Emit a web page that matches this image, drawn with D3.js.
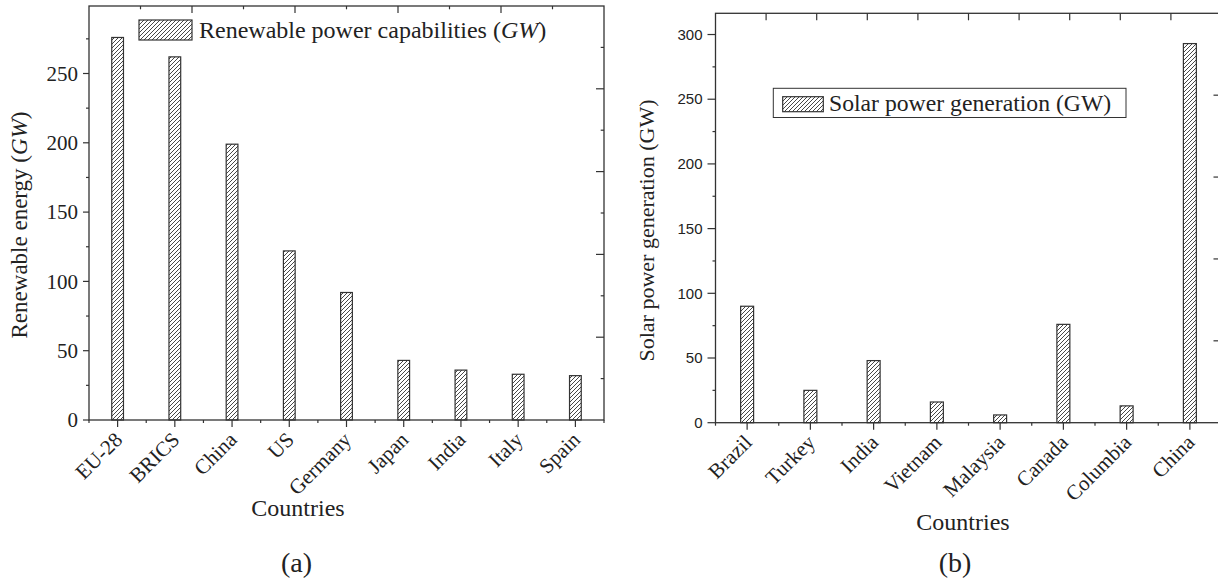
<!DOCTYPE html>
<html>
<head>
<meta charset="utf-8">
<script src="https://cdn.jsdelivr.net/npm/d3@7"></script>
<style>
  html, body { margin: 0; padding: 0; background: #fff; }
  svg { display: block; }
  text { fill: #222; }
</style>
</head>
<body>
<svg id="chart" width="1218" height="583"></svg>
<script>
// ---- Data ----
const leftCategories = ["EU-28", "BRICS", "China", "US", "Germany", "Japan", "India", "Italy", "Spain"];
const leftValues = [276, 262, 199, 122, 92, 43, 36, 33, 32];
const leftYTicks = [0, 50, 100, 150, 200, 250];

const rightCategories = ["Brazil", "Turkey", "India", "Vietnam", "Malaysia", "Canada", "Columbia", "China"];
const rightValues = [90, 25, 48, 16, 6, 76, 13, 293];
const rightYTicks = [0, 50, 100, 150, 200, 250, 300];

const serif = "'Liberation Serif', 'Times New Roman', serif";
const sans = "'Liberation Sans', Arial, sans-serif";
const axisColor = "#333";

const svg = d3.select("#chart");

// hatch pattern
const defs = svg.append("defs");
const pat = defs.append("pattern")
  .attr("id", "hatch")
  .attr("patternUnits", "userSpaceOnUse")
  .attr("width", 4).attr("height", 4);
pat.append("rect").attr("width", 4).attr("height", 4).attr("fill", "#fff");
pat.append("path")
  .attr("d", "M-1,1 l2,-2 M0,4 l4,-4 M3,5 l2,-2")
  .attr("stroke", "#333").attr("stroke-width", 0.9);

function drawPanel(cfg) {
  const g = svg.append("g");
  const x = d3.scaleBand().domain(cfg.categories).range([cfg.left, cfg.right]).paddingInner(0).paddingOuter(0);
  const y = d3.scaleLinear().domain([0, cfg.yMax]).range([cfg.bottom, cfg.top]);

  // bars
  const bw = x.bandwidth() * 0.205;
  g.selectAll("rect.bar").data(cfg.values).enter().append("rect")
    .attr("class", "bar")
    .attr("x", (d, i) => x(cfg.categories[i]) + x.bandwidth() / 2 - bw / 2)
    .attr("y", d => y(d))
    .attr("width", bw)
    .attr("height", d => y(0) - y(d))
    .attr("fill", "url(#hatch)")
    .attr("stroke", "#333")
    .attr("stroke-width", 1.2);

  // frame
  g.append("rect")
    .attr("x", cfg.left).attr("y", cfg.top)
    .attr("width", cfg.right - cfg.left).attr("height", cfg.bottom - cfg.top)
    .attr("fill", "none").attr("stroke", axisColor).attr("stroke-width", 1.3);

  // left y axis ticks (outward), major + minor
  const yMinor = d3.range(0, cfg.yMax, 25);
  yMinor.forEach(v => {
    const major = v % 50 === 0;
    g.append("line")
      .attr("x1", cfg.left).attr("x2", cfg.left - (major ? cfg.yMajorLen : 3))
      .attr("y1", y(v)).attr("y2", y(v))
      .attr("stroke", axisColor).attr("stroke-width", 1.2);
  });
  g.selectAll("text.ytick").data(cfg.yTicks).enter().append("text")
    .attr("class", "ytick")
    .attr("x", cfg.yLabelRight)
    .attr("y", d => y(d))
    .attr("dy", "0.35em")
    .attr("text-anchor", "end")
    .style("font-family", cfg.yTickFont)
    .style("font-size", cfg.yTickSize + "px")
    .text(d => d);

  // bottom x axis ticks
  cfg.categories.forEach(c => {
    const cx = x(c) + x.bandwidth() / 2;
    g.append("line").attr("x1", cx).attr("x2", cx)
      .attr("y1", cfg.bottom).attr("y2", cfg.bottom + 7)
      .attr("stroke", axisColor).attr("stroke-width", 1.2);
  });
  d3.range(cfg.categories.length + 1).forEach(i => {
    const bx = cfg.left + i * x.step();
    g.append("line").attr("x1", bx).attr("x2", bx)
      .attr("y1", cfg.bottom).attr("y2", cfg.bottom + 3)
      .attr("stroke", axisColor).attr("stroke-width", 1.2);
  });
  g.selectAll("text.xtick").data(cfg.categories).enter().append("text")
    .attr("class", "xtick")
    .attr("transform", d => `translate(${x(d) + x.bandwidth() / 2 + 6},${cfg.bottom + 21}) rotate(-45)`)
    .attr("text-anchor", "end")
    .style("font-family", serif)
    .style("font-size", "21px")
    .text(d => d);

  // top ticks (inward), 10 divisions
  const W = cfg.right - cfg.left;
  d3.range(1, 10).forEach(k => {
    const tx = cfg.left + k * W / 10;
    const len = (cfg.topAlt && k % 2 === 1) ? 3.3 : 7;
    g.append("line").attr("x1", tx).attr("x2", tx)
      .attr("y1", cfg.top).attr("y2", cfg.top + len)
      .attr("stroke", axisColor).attr("stroke-width", 1.2);
  });
  // right ticks (inward), 10 divisions
  const H = cfg.bottom - cfg.top;
  d3.range(1, 10).forEach(k => {
    const ty = cfg.bottom - k * H / 10;
    const len = (k % 2 === 1) ? 3.3 : 8;
    g.append("line").attr("x1", cfg.right).attr("x2", cfg.right - len)
      .attr("y1", ty).attr("y2", ty)
      .attr("stroke", axisColor).attr("stroke-width", 1.2);
  });

  // axis titles
  const yl = g.append("text")
    .attr("transform", `translate(${cfg.yTitleX},${cfg.yTitleY}) rotate(-90)`)
    .attr("text-anchor", "middle")
    .style("font-family", serif)
    .style("font-size", cfg.yTitleSize + "px");
  cfg.yTitle.forEach(p => yl.append("tspan").style("font-style", p.italic ? "italic" : "normal").text(p.t));

  g.append("text")
    .attr("x", cfg.xTitleX).attr("y", cfg.xTitleY)
    .attr("text-anchor", "middle")
    .style("font-family", serif).style("font-size", "24px")
    .text("Countries");

  g.append("text")
    .attr("x", cfg.panelX).attr("y", 572)
    .attr("text-anchor", "middle")
    .style("font-family", serif).style("font-size", "28px")
    .text(cfg.panelLabel);

  // legend
  const L = cfg.legend;
  if (L.frame) {
    g.append("rect").attr("x", L.frame[0]).attr("y", L.frame[1])
      .attr("width", L.frame[2]).attr("height", L.frame[3])
      .attr("fill", "#fff").attr("stroke", axisColor).attr("stroke-width", 1);
  }
  g.append("rect").attr("x", L.patch[0]).attr("y", L.patch[1])
    .attr("width", L.patch[2]).attr("height", L.patch[3])
    .attr("fill", "url(#hatch)").attr("stroke", "#333").attr("stroke-width", 1.2);
  const lt = g.append("text").attr("x", L.textX).attr("y", L.textY)
    .style("font-family", serif).style("font-size", L.size + "px");
  L.text.forEach(p => lt.append("tspan").style("font-style", p.italic ? "italic" : "normal").text(p.t));
}

drawPanel({
  categories: leftCategories, values: leftValues, yTicks: leftYTicks,
  left: 89, right: 604, top: 6, bottom: 420, yMax: 298.7,
  yMajorLen: 6, yLabelRight: 78, yTickFont: serif, yTickSize: 21,
  topAlt: true,
  yTitle: [{t: "Renewable energy ("}, {t: "GW", italic: true}, {t: ")"}],
  yTitleX: 27, yTitleY: 225, yTitleSize: 23,
  xTitleX: 298, xTitleY: 516,
  panelX: 296.5, panelLabel: "(a)",
  legend: {
    frame: null, patch: [139, 20, 53, 20], textX: 199, textY: 37.5, size: 24,
    text: [{t: "Renewable power capabilities ("}, {t: "GW", italic: true}, {t: ")"}]
  }
});

drawPanel({
  categories: rightCategories, values: rightValues, yTicks: rightYTicks,
  left: 715.5, right: 1221.5, top: 13.3, bottom: 422.7, yMax: 316.4,
  yMajorLen: 8, yLabelRight: 702.5, yTickFont: sans, yTickSize: 15,
  topAlt: false,
  yTitle: [{t: "Solar power generation (GW)"}],
  yTitleX: 654, yTitleY: 230.5, yTitleSize: 22,
  xTitleX: 963, xTitleY: 530,
  panelX: 955, panelLabel: "(b)",
  legend: {
    frame: [773.3, 88.3, 352.7, 29.2], patch: [782.7, 96.7, 40.6, 15], textX: 829, textY: 110.5, size: 23.7,
    text: [{t: "Solar power generation (GW)"}]
  }
});
</script>
</body>
</html>
